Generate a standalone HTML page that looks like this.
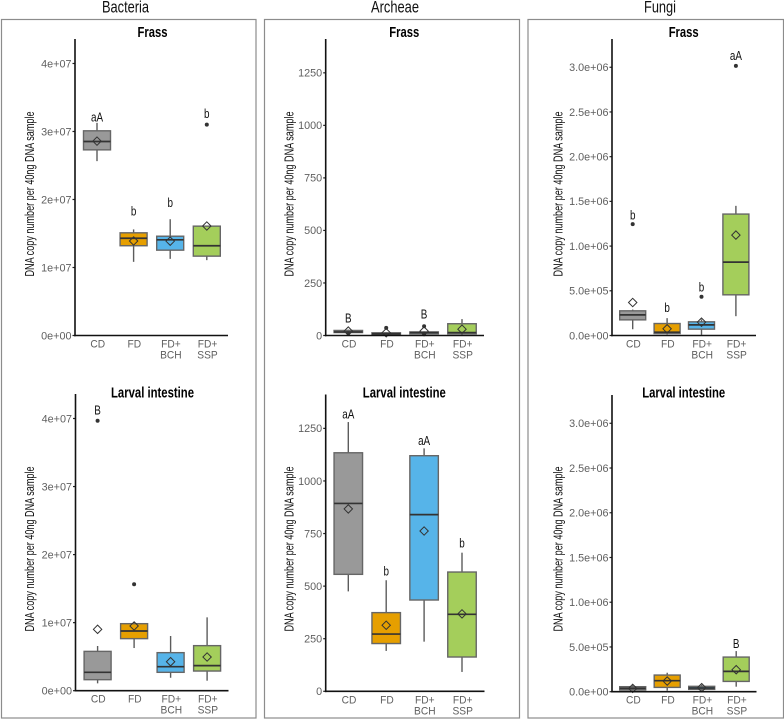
<!DOCTYPE html>
<html lang="en">
<head>
<meta charset="utf-8">
<title>DNA copy number boxplots</title>
<style>
html,body{margin:0;padding:0;background:#fff;}
svg{display:block;font-family:"Liberation Sans",sans-serif;}
.main{font-size:17px;fill:#111;}
.sub{font-size:14.5px;font-weight:bold;fill:#000;}
.ytitle{font-size:13px;fill:#111;}
.tick{font-size:10.8px;fill:#5f5f5f;}
.cat{font-size:11px;fill:#5f5f5f;}
.letter{font-size:13px;fill:#111;}
</style>
</head>
<body>
<svg id="chart" xmlns="http://www.w3.org/2000/svg" width="784" height="720" viewBox="0 0 784 720">
  <rect x="0" y="0" width="784" height="720" fill="#fff"/>
  <rect x="1.5" y="19.5" width="254.5" height="698.5" fill="none" stroke="#8c8c8c" stroke-width="1.2"/>
  <rect x="264.5" y="19.5" width="255" height="698.5" fill="none" stroke="#8c8c8c" stroke-width="1.2"/>
  <rect x="528" y="19.5" width="255.5" height="698.5" fill="none" stroke="#8c8c8c" stroke-width="1.2"/>

  <text class="main" x="125.5" y="12.5" text-anchor="middle" textLength="47" lengthAdjust="spacingAndGlyphs">Bacteria</text>
  <text class="main" x="395" y="12.5" text-anchor="middle" textLength="48" lengthAdjust="spacingAndGlyphs">Archeae</text>
  <text class="main" x="660" y="12.5" text-anchor="middle" textLength="32" lengthAdjust="spacingAndGlyphs">Fungi</text>

  <text class="sub" x="152.5" y="37" text-anchor="middle" textLength="30" lengthAdjust="spacingAndGlyphs">Frass</text>
  <text class="sub" x="404.3" y="37" text-anchor="middle" textLength="30" lengthAdjust="spacingAndGlyphs">Frass</text>
  <text class="sub" x="683.7" y="37" text-anchor="middle" textLength="30" lengthAdjust="spacingAndGlyphs">Frass</text>
  <text class="sub" x="152.5" y="397.5" text-anchor="middle" textLength="83" lengthAdjust="spacingAndGlyphs">Larval intestine</text>
  <text class="sub" x="404.3" y="397.5" text-anchor="middle" textLength="83" lengthAdjust="spacingAndGlyphs">Larval intestine</text>
  <text class="sub" x="683.7" y="397.5" text-anchor="middle" textLength="83" lengthAdjust="spacingAndGlyphs">Larval intestine</text>

  <text class="ytitle" transform="translate(34,194) rotate(-90)" text-anchor="middle" textLength="165" lengthAdjust="spacingAndGlyphs">DNA copy number per 40ng DNA sample</text>
  <text class="ytitle" transform="translate(293.5,194) rotate(-90)" text-anchor="middle" textLength="165" lengthAdjust="spacingAndGlyphs">DNA copy number per 40ng DNA sample</text>
  <text class="ytitle" transform="translate(562.5,194) rotate(-90)" text-anchor="middle" textLength="165" lengthAdjust="spacingAndGlyphs">DNA copy number per 40ng DNA sample</text>
  <text class="ytitle" transform="translate(34,549) rotate(-90)" text-anchor="middle" textLength="165" lengthAdjust="spacingAndGlyphs">DNA copy number per 40ng DNA sample</text>
  <text class="ytitle" transform="translate(293.5,549) rotate(-90)" text-anchor="middle" textLength="165" lengthAdjust="spacingAndGlyphs">DNA copy number per 40ng DNA sample</text>
  <text class="ytitle" transform="translate(562.5,549) rotate(-90)" text-anchor="middle" textLength="165" lengthAdjust="spacingAndGlyphs">DNA copy number per 40ng DNA sample</text>
</svg>
<script>
const categories = [["CD"], ["FD"], ["FD+", "BCH"], ["FD+", "SSP"]];

const bacteriaTicks = [0, 1e7, 2e7, 3e7, 4e7];
const bacteriaTickLabels = ["0e+00", "1e+07", "2e+07", "3e+07", "4e+07"];
const bacteriaMax = 4.36e7;
const archeaeTicks = [0, 250, 500, 750, 1000, 1250];
const archeaeTickLabels = ["0", "250", "500", "750", "1000", "1250"];
const archeaeMax = 1411;
const fungiTicks = [0, 5e5, 1e6, 1.5e6, 2e6, 2.5e6, 3e6];
const fungiTickLabels = ["0.0e+00", "5.0e+05", "1.0e+06", "1.5e+06", "2.0e+06", "2.5e+06", "3.0e+06"];
const fungiMax = 3.316e6;

const bacteriaFrassLow = [2.564e7, 1.083e7, 1.127e7, 1.108e7];
const bacteriaFrassQ1 = [2.73e7, 1.32e7, 1.255e7, 1.167e7];
const bacteriaFrassMedian = [2.853e7, 1.43e7, 1.407e7, 1.32e7];
const bacteriaFrassQ3 = [3.01e7, 1.51e7, 1.46e7, 1.608e7];
const bacteriaFrassHigh = [3.127e7, 1.56e7, 1.71e7, 1.608e7];
const bacteriaFrassMean = [2.858e7, 1.39e7, 1.387e7, 1.61e7];
const bacteriaFrassOutliers = [[], [], [], [3.10e7]];
const bacteriaFrassLetters = ["aA", "b", "b", "b"];
const bacteriaFrassLetterAt = [3.216e7, 1.83e7, 1.956e7, 3.265e7];

const bacteriaGutLow = [0.108e7, 0.627e7, 0.19e7, 0.147e7];
const bacteriaGutQ1 = [0.162e7, 0.765e7, 0.27e7, 0.289e7];
const bacteriaGutMedian = [0.27e7, 0.877e7, 0.353e7, 0.368e7];
const bacteriaGutQ3 = [0.578e7, 0.985e7, 0.559e7, 0.662e7];
const bacteriaGutHigh = [0.657e7, 1.005e7, 0.804e7, 1.078e7];
const bacteriaGutMean = [0.902e7, 0.951e7, 0.426e7, 0.495e7];
const bacteriaGutOutliers = [[3.966e7], [1.564e7], [], []];
const bacteriaGutLetters = ["B", "", "", ""];
const bacteriaGutLetterAt = [4.127e7, 0, 0, 0];

const archeaeFrassLow = [10, 2, 2, 2];
const archeaeFrassQ1 = [14, 3, 8, 8];
const archeaeFrassMedian = [17, 8, 14, 14];
const archeaeFrassQ3 = [24, 13, 17, 56];
const archeaeFrassHigh = [28, 16, 20, 78];
const archeaeFrassMean = [21, 13, 21, 30];
const archeaeFrassOutliers = [[11], [36], [44, 6], []];
const archeaeFrassLetters = ["B", "", "B", ""];
const archeaeFrassLetterAt = [84, 0, 103, 0];

const archeaeGutLow = [475, 192, 236, 92];
const archeaeGutQ1 = [556, 227, 434, 163];
const archeaeGutMedian = [893, 272, 840, 366];
const archeaeGutQ3 = [1134, 374, 1120, 567];
const archeaeGutHigh = [1280, 528, 1155, 659];
const archeaeGutMean = [867, 314, 762, 368];
const archeaeGutOutliers = [[], [], [], []];
const archeaeGutLetters = ["aA", "b", "aA", "b"];
const archeaeGutLetterAt = [1318, 572, 1193, 705];

const fungiFrassLow = [0.07e6, 0.011e6, 0.007e6, 0.216e6];
const fungiFrassQ1 = [0.175e6, 0.022e6, 0.071e6, 0.455e6];
const fungiFrassMedian = [0.231e6, 0.037e6, 0.119e6, 0.821e6];
const fungiFrassQ3 = [0.276e6, 0.134e6, 0.153e6, 1.358e6];
const fungiFrassHigh = [0.29e6, 0.194e6, 0.18e6, 1.45e6];
const fungiFrassMean = [0.369e6, 0.075e6, 0.149e6, 1.123e6];
const fungiFrassOutliers = [[1.246e6], [], [0.433e6], [3.015e6]];
const fungiFrassLetters = ["b", "b", "b", "aA"];
const fungiFrassLetterAt = [1.35e6, 0.313e6, 0.545e6, 3.13e6];

const fungiGutLow = [0.011e6, 0.011e6, 0.011e6, 0.056e6];
const fungiGutQ1 = [0.019e6, 0.048e6, 0.026e6, 0.115e6];
const fungiGutMedian = [0.037e6, 0.123e6, 0.041e6, 0.227e6];
const fungiGutQ3 = [0.056e6, 0.186e6, 0.06e6, 0.387e6];
const fungiGutHigh = [0.074e6, 0.212e6, 0.078e6, 0.454e6];
const fungiGutMean = [0.037e6, 0.119e6, 0.045e6, 0.246e6];
const fungiGutOutliers = [[], [], [], []];
const fungiGutLetters = ["", "", "", "B"];
const fungiGutLetterAt = [0, 0, 0, 0.54e6];

const fillColors = ["#999999", "#E69F00", "#56B4E9", "#A4CE5B"];

const svg = document.getElementById('chart');
const NS = 'http://www.w3.org/2000/svg';

function make(tag, props, parent) {
  const node = document.createElementNS(NS, tag);
  for (const key in props) node.setAttribute(key, props[key]);
  parent.appendChild(node);
  return node;
}

function drawPanel(p) {
  const group = make('g', {}, svg);
  
  

  const yScale = v => p.y0 - (v / p.max) * (p.y0 - p.yTop);
  const xScale = i => p.xFirst + i * p.xStep;

  categories.forEach((cat, i) => {
    const cx = xScale(i);
    const hw = p.boxWidth / 2;

    const whiskerUp = make('line', {x1: cx, x2: cx, y1: yScale(p.q3[i]), y2: yScale(p.high[i]), stroke: '#5c5c5c', 'stroke-width': 1.4}, group);
    
    

    const whiskerDown = make('line', {x1: cx, x2: cx, y1: yScale(p.q1[i]), y2: yScale(p.low[i]), stroke: '#5c5c5c', 'stroke-width': 1.4}, group);
    
    

    const box = make('rect', {x: cx - hw, width: p.boxWidth, y: yScale(p.q3[i]), height: Math.max(0, yScale(p.q1[i]) - yScale(p.q3[i])), fill: fillColors[i], stroke: '#666', 'stroke-width': 1.4}, group);
    
    

    const median = make('line', {x1: cx - hw, x2: cx + hw, y1: yScale(p.median[i]), y2: yScale(p.median[i]), stroke: '#333', 'stroke-width': 1.7}, group);
    
    

    p.outliers[i].forEach(v => {
      const dot = make('circle', {cx: cx, cy: yScale(v), r: 2, fill: '#333'}, group);
      
      
    });

    const my = yScale(p.mean[i]);
    const d = 4.2;
    const diamond = make('polygon', {points: [cx, my - d, cx + d, my, cx, my + d, cx - d, my].join(' '), fill: 'none', stroke: '#333', 'stroke-width': 1}, group);
    
    

    if (p.letters[i]) {
      const letter = make('text', {class: 'letter', 'text-anchor': 'middle', transform: 'translate(' + cx + ',' + (yScale(p.letterAt[i]) + 4.6) + ') scale(.76,1)'}, group);
      letter.textContent = p.letters[i];
      
      
    }

    cat.forEach((line, k) => {
      const label = make('text', {class: 'cat', 'text-anchor': 'middle', transform: 'translate(' + (cx + 0.7) + ',' + (p.y0 + 12 + k * 11) + ') scale(.93,1)'}, group);
      label.textContent = line;
      
      
    });
  });

  p.ticks.forEach((t, i) => {
    const y = yScale(t);
    const mark = make('line', {x1: p.x0 - 2.5, x2: p.x0, y1: y, y2: y, stroke: '#222', 'stroke-width': 1.2}, group);
    
    

    const label = make('text', {class: 'tick', x: p.x0 - 3.5, y: y + 3.8, 'text-anchor': 'end'}, group);
    label.textContent = p.tickLabels[i];
    
    
  });

  const yAxis = make('line', {x1: p.x0, x2: p.x0, y1: p.yTop, y2: p.y0 + 0.8, stroke: '#111', 'stroke-width': 1.6}, group);
  
  

  const xAxis = make('line', {x1: p.x0 - 0.8, x2: p.xEnd, y1: p.y0, y2: p.y0, stroke: '#111', 'stroke-width': 1.6}, group);
  
  
}

drawPanel({name: 'bacteria-frass', x0: 75, xEnd: 228, y0: 335.5, yTop: 39, max: bacteriaMax, xFirst: 97, xStep: 36.6, boxWidth: 27,
  ticks: bacteriaTicks, tickLabels: bacteriaTickLabels,
  low: bacteriaFrassLow, q1: bacteriaFrassQ1, median: bacteriaFrassMedian, q3: bacteriaFrassQ3, high: bacteriaFrassHigh, mean: bacteriaFrassMean,
  outliers: bacteriaFrassOutliers, letters: bacteriaFrassLetters, letterAt: bacteriaFrassLetterAt});

drawPanel({name: 'bacteria-intestine', x0: 75.5, xEnd: 228.5, y0: 690.7, yTop: 394, max: bacteriaMax, xFirst: 97.6, xStep: 36.5, boxWidth: 27,
  ticks: bacteriaTicks, tickLabels: bacteriaTickLabels,
  low: bacteriaGutLow, q1: bacteriaGutQ1, median: bacteriaGutMedian, q3: bacteriaGutQ3, high: bacteriaGutHigh, mean: bacteriaGutMean,
  outliers: bacteriaGutOutliers, letters: bacteriaGutLetters, letterAt: bacteriaGutLetterAt});

drawPanel({name: 'archeae-frass', x0: 325.7, xEnd: 484, y0: 335.5, yTop: 39, max: archeaeMax, xFirst: 348.3, xStep: 37.9, boxWidth: 28.5,
  ticks: archeaeTicks, tickLabels: archeaeTickLabels,
  low: archeaeFrassLow, q1: archeaeFrassQ1, median: archeaeFrassMedian, q3: archeaeFrassQ3, high: archeaeFrassHigh, mean: archeaeFrassMean,
  outliers: archeaeFrassOutliers, letters: archeaeFrassLetters, letterAt: archeaeFrassLetterAt});

drawPanel({name: 'archeae-intestine', x0: 325.7, xEnd: 484.5, y0: 691.3, yTop: 394.5, max: archeaeMax, xFirst: 348.3, xStep: 37.9, boxWidth: 28.5,
  ticks: archeaeTicks, tickLabels: archeaeTickLabels,
  low: archeaeGutLow, q1: archeaeGutQ1, median: archeaeGutMedian, q3: archeaeGutQ3, high: archeaeGutHigh, mean: archeaeGutMean,
  outliers: archeaeGutOutliers, letters: archeaeGutLetters, letterAt: archeaeGutLetterAt});

drawPanel({name: 'fungi-frass', x0: 612, xEnd: 756, y0: 335.5, yTop: 39, max: fungiMax, xFirst: 632.7, xStep: 34.4, boxWidth: 26,
  ticks: fungiTicks, tickLabels: fungiTickLabels,
  low: fungiFrassLow, q1: fungiFrassQ1, median: fungiFrassMedian, q3: fungiFrassQ3, high: fungiFrassHigh, mean: fungiFrassMean,
  outliers: fungiFrassOutliers, letters: fungiFrassLetters, letterAt: fungiFrassLetterAt});

drawPanel({name: 'fungi-intestine', x0: 612, xEnd: 756.5, y0: 691.7, yTop: 395, max: fungiMax, xFirst: 632.7, xStep: 34.5, boxWidth: 26,
  ticks: fungiTicks, tickLabels: fungiTickLabels,
  low: fungiGutLow, q1: fungiGutQ1, median: fungiGutMedian, q3: fungiGutQ3, high: fungiGutHigh, mean: fungiGutMean,
  outliers: fungiGutOutliers, letters: fungiGutLetters, letterAt: fungiGutLetterAt});
</script>
</body>
</html>
